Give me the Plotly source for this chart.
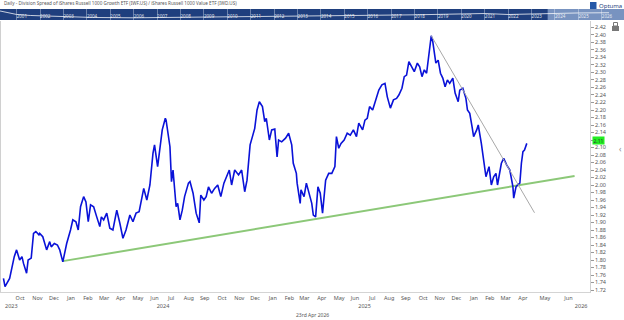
import plotly.graph_objects as go
import pandas as pd

# ---------------- data ----------------
dates = [
    "2023-09-15", "2023-09-19", "2023-09-27", "2023-10-02", "2023-10-05", "2023-10-10", "2023-10-16",
    "2023-10-19", "2023-10-23", "2023-10-27", "2023-10-31", "2023-11-06", "2023-11-09", "2023-11-14",
    "2023-11-20", "2023-11-21", "2023-11-27", "2023-12-04", "2023-12-08", "2023-12-12", "2023-12-18",
    "2023-12-22", "2023-12-27",
    "2024-01-02", "2024-01-09", "2024-01-16", "2024-01-19", "2024-01-25", "2024-01-30", "2024-02-02",
    "2024-02-08", "2024-02-13", "2024-02-16", "2024-02-21", "2024-02-27", "2024-03-04", "2024-03-08",
    "2024-03-12", "2024-03-15", "2024-03-21", "2024-03-27", "2024-04-02", "2024-04-09", "2024-04-15",
    "2024-04-19", "2024-04-25", "2024-05-02", "2024-05-08", "2024-05-14", "2024-05-20", "2024-05-24",
    "2024-05-28", "2024-06-03", "2024-06-07", "2024-06-13", "2024-06-17", "2024-06-21", "2024-06-26",
    "2024-07-01", "2024-07-05", "2024-07-08", "2024-07-15", "2024-07-17", "2024-07-19", "2024-07-25",
    "2024-07-29", "2024-08-01", "2024-08-06", "2024-08-09", "2024-08-16", "2024-08-20", "2024-08-26",
    "2024-08-30", "2024-09-05", "2024-09-09", "2024-09-13", "2024-09-18", "2024-09-23", "2024-09-27",
    "2024-10-03", "2024-10-09", "2024-10-15", "2024-10-21", "2024-10-30", "2024-11-04", "2024-11-08",
    "2024-11-15", "2024-11-21", "2024-11-27", "2024-12-02", "2024-12-06", "2024-12-11", "2024-12-16",
    "2024-12-19", "2024-12-24", "2024-12-30",
    "2025-01-02", "2025-01-06", "2025-01-10", "2025-01-15", "2025-01-21", "2025-01-24", "2025-01-28",
    "2025-02-03", "2025-02-10", "2025-02-14", "2025-02-20", "2025-02-24", "2025-02-28", "2025-03-03",
    "2025-03-07", "2025-03-10", "2025-03-14", "2025-03-19", "2025-03-24", "2025-03-28", "2025-04-01",
    "2025-04-04", "2025-04-09", "2025-04-14", "2025-04-17", "2025-04-23", "2025-04-29", "2025-05-05",
    "2025-05-09", "2025-05-13", "2025-05-16", "2025-05-21", "2025-05-27", "2025-06-02", "2025-06-06",
    "2025-06-12", "2025-06-18", "2025-06-23", "2025-06-30", "2025-07-03", "2025-07-08", "2025-07-11",
    "2025-07-17", "2025-07-23", "2025-07-29", "2025-08-04", "2025-08-08", "2025-08-13", "2025-08-19",
    "2025-08-25", "2025-08-29", "2025-09-03", "2025-09-09", "2025-09-12", "2025-09-17", "2025-09-22",
    "2025-09-26", "2025-10-01", "2025-10-07", "2025-10-10", "2025-10-15", "2025-10-20", "2025-10-23",
    "2025-10-27", "2025-10-31", "2025-11-04", "2025-11-07", "2025-11-10", "2025-11-13", "2025-11-18",
    "2025-11-21", "2025-11-26", "2025-12-01", "2025-12-04", "2025-12-10", "2025-12-15", "2025-12-19",
    "2025-12-23", "2025-12-29",
    "2026-01-02", "2026-01-06", "2026-01-09", "2026-01-14", "2026-01-16", "2026-01-22", "2026-01-26",
    "2026-01-30", "2026-02-04", "2026-02-09", "2026-02-13", "2026-02-18", "2026-02-23", "2026-02-26",
    "2026-03-02", "2026-03-09", "2026-03-12", "2026-03-18", "2026-03-24", "2026-03-30", "2026-03-31",
    "2026-04-03", "2026-04-07", "2026-04-10", "2026-04-14", "2026-04-16", "2026-04-20", "2026-04-23",
]
ratio = [
    1.751, 1.729, 1.751, 1.782, 1.809, 1.827, 1.800,
    1.809, 1.791, 1.765, 1.800, 1.805, 1.871, 1.876,
    1.867, 1.871, 1.862, 1.827, 1.849, 1.835, 1.844,
    1.840, 1.827,
    1.795, 1.844, 1.880, 1.907, 1.902, 1.880, 1.942,
    1.969, 1.955, 1.902, 1.947, 1.942, 1.915, 1.889,
    1.915, 1.907, 1.925, 1.885, 1.880, 1.933, 1.898,
    1.858, 1.880, 1.920, 1.902, 1.925, 1.929, 1.969,
    1.991, 1.960, 2.000, 2.085, 2.107, 2.049, 2.102,
    2.147, 2.178, 2.173, 2.102, 2.009, 2.040, 1.942,
    1.951, 1.907, 1.933, 1.969, 2.005, 2.009, 1.978,
    1.925, 1.899, 1.973, 1.960, 1.969, 1.995, 1.978,
    1.991, 2.000, 1.969, 2.005, 2.040, 2.000, 2.040,
    2.027, 2.040, 1.982, 2.013, 2.107, 2.129, 2.151,
    2.200, 2.222, 2.209,
    2.169, 2.178, 2.120, 2.147, 2.149, 2.075, 2.120,
    2.115, 2.125, 2.138, 2.107, 2.058, 2.031, 2.005,
    1.951, 1.987, 1.969, 2.005, 1.978, 1.951, 1.920,
    1.915, 1.995, 1.978, 1.925, 2.013, 2.031, 2.031,
    2.049, 2.129, 2.098, 2.111, 2.120, 2.138, 2.133,
    2.147, 2.129, 2.165, 2.147, 2.173, 2.178, 2.209,
    2.200, 2.227, 2.253, 2.267, 2.271, 2.235, 2.205,
    2.227, 2.231, 2.240, 2.258, 2.289, 2.293, 2.329,
    2.311, 2.302, 2.325, 2.315, 2.289, 2.307, 2.298,
    2.333, 2.398, 2.382, 2.342, 2.325, 2.333, 2.298,
    2.285, 2.262, 2.280, 2.271, 2.285, 2.245, 2.222,
    2.253, 2.258,
    2.231, 2.200, 2.191, 2.155, 2.129, 2.147, 2.160,
    2.111, 2.058, 2.022, 2.049, 2.000, 2.022, 2.031,
    2.000, 2.058, 2.071, 2.053, 2.040, 1.995, 1.965,
    1.995, 2.000, 2.005, 2.058, 2.089, 2.093, 2.111,
]

support_dates = ["2024-01-02", "2026-06-24"]
support_vals = [1.797, 2.024]
resist_dates = ["2025-10-31", "2026-05-03"]
resist_vals = [2.398, 1.926]

nav_dates = ["2000-04-15", "2000-09-01", "2001-01-01", "2001-08-01", "2002-08-01", "2003-07-01",
             "2004-04-01", "2006-01-01", "2007-01-01", "2008-01-01", "2008-08-01", "2010-01-01",
             "2011-06-01", "2012-09-01", "2014-01-01", "2016-01-01", "2018-01-01", "2020-01-01",
             "2021-01-01", "2022-01-01", "2023-01-01", "2024-01-01", "2025-01-01", "2026-04-23"]
nav_level = [0.82, 0.68, 0.50, 0.41, 0.32, 0.27, 0.23, 0.20, 0.23, 0.29, 0.27, 0.29,
             0.32, 0.34, 0.41, 0.44, 0.47, 0.55, 0.59, 0.50, 0.56, 0.61, 0.64, 0.66]

# right-axis ticks; 2.12 sits behind the current-value badge, so its text is blank
y_ticks = [1.72, 1.74, 1.76, 1.78, 1.80, 1.82, 1.84, 1.86, 1.88, 1.90, 1.92, 1.94, 1.96, 1.98,
           2.00, 2.02, 2.04, 2.06, 2.08, 2.10, 2.12, 2.14, 2.16, 2.18, 2.20, 2.22, 2.24, 2.26,
           2.28, 2.30, 2.32, 2.34, 2.36, 2.38, 2.40, 2.42]
y_tick_labels = ["" if abs(v - 2.12) < 1e-9 else f"{v:.2f}" for v in y_ticks]

title_text = ("Daily - Division Spread of iShares Russell 1000 Growth ETF (IWF.US) / "
              "iShares Russell 1000 Value ETF (IWD.US)")
cursor_date_text = "23rd Apr 2026"

# ---------------- axis config ----------------
x_range = ["2023-09-08 12:00", "2026-07-14"]
nav_range = ["2000-04-15", "2026-12-13"]
days = pd.date_range("2023-09-01", "2026-04-22", freq="D")
weekends = [d.strftime("%Y-%m-%d") for d in days if d.weekday() >= 5]
breaks = [dict(values=weekends, dvalue=86400000)]

W, H = 624, 320
FONT = "Noto Sans"
plot_right = 590 / W
main_top = 271 / 292

fig = go.Figure()

fig.add_trace(go.Scatter(x=nav_dates, y=nav_level, xaxis="x3", yaxis="y3", mode="lines",
                         line=dict(color="rgba(255,255,255,0.75)", width=1), hoverinfo="skip"))
fig.add_trace(go.Scatter(x=support_dates, y=support_vals, mode="lines",
                         line=dict(color="#8cc878", width=2), hoverinfo="skip"))
fig.add_trace(go.Scatter(x=resist_dates, y=resist_vals, xaxis="x2", yaxis="y", mode="lines",
                         line=dict(color="#a8a8a8", width=1), hoverinfo="skip"))
fig.add_trace(go.Scatter(x=dates, y=ratio, mode="lines",
                         line=dict(color="#0a12d8", width=1.6)))

fig.update_layout(
    width=W, height=H,
    margin=dict(l=0, r=0, t=0, b=28),
    paper_bgcolor="white", plot_bgcolor="white",
    showlegend=False,
    font=dict(family=FONT, size=6, color="#555"),
    xaxis=dict(
        domain=[0, plot_right], anchor="y", type="date", range=x_range, rangebreaks=breaks,
        dtick="M1", tick0="2000-01-01", tickformat="%b", ticklabelmode="period",
        ticks="", showgrid=False, zeroline=False,
        showline=True, linecolor="#d4d4d4", linewidth=1,
        minor=dict(ticks="outside", dtick="M1", tick0="2000-01-01", ticklen=11,
                   tickcolor="#dcdcdc", tickwidth=1, showgrid=False),
        tickfont=dict(family=FONT, size=5.5, color="#555"),
    ),
    xaxis2=dict(
        domain=[0, plot_right], overlaying="x", anchor="free", position=0, side="bottom",
        type="date", range=x_range, rangebreaks=breaks,
        dtick="M12", tick0="2000-01-01", tickformat="%Y", ticklabelmode="period",
        ticks="", showgrid=False, zeroline=False, showline=False,
        minor=dict(ticks="outside", dtick="M12", tick0="2000-01-01", ticklen=18,
                   tickcolor="#c4c4c4", tickwidth=1, showgrid=False),
        ticklabelstandoff=9,
        tickfont=dict(family=FONT, size=5.5, color="#555"),
    ),
    yaxis=dict(
        domain=[0, main_top], anchor="x", side="right",
        range=[1.7147, 2.4373], tickmode="array", tickvals=y_ticks, ticktext=y_tick_labels,
        ticks="outside", ticklen=3, tickcolor="#999", tickwidth=1,
        showline=True, linecolor="#d0d0d0", showgrid=False, zeroline=False,
        tickfont=dict(family=FONT, size=5.5, color="#555"),
    ),
    xaxis3=dict(
        domain=[0, 1], anchor="y3", type="date", range=nav_range,
        dtick="M12", tick0="2000-01-01", tickformat="%Y",
        side="top", ticklabelposition="inside right", ticks="",
        showgrid=True, gridcolor="rgba(255,255,255,0.35)", gridwidth=1,
        showline=False, zeroline=False,
        tickfont=dict(family=FONT, size=4.5, color="rgba(255,255,255,0.85)"),
    ),
    yaxis3=dict(domain=[0.9315, 0.9692], anchor="x3", range=[0, 1], visible=False),
)

shapes = [
    # navigator bar
    dict(type="rect", xref="x3", yref="y3 domain", x0=nav_range[0], x1=nav_range[1], y0=0, y1=1,
         fillcolor="#1f3f7e", line=dict(width=0), layer="below"),
    dict(type="rect", xref="x3", yref="y3 domain", x0=x_range[0], x1=nav_range[1], y0=0, y1=1,
         fillcolor="#7893c0", line=dict(width=0), layer="below"),
    # left border of the chart
    dict(type="line", xref="paper", yref="paper", x0=0.0008, x1=0.0008, y0=0, y1=main_top,
         line=dict(color="#d0d0d0", width=1)),
    # logo icon
    dict(type="rect", xref="paper", yref="paper", x0=590 / W, x1=596.5 / W,
         y0=(292 - 9) / 292, y1=(292 - 2) / 292, fillcolor="#2458a8", line=dict(width=0)),
    # lock icon
    dict(type="rect", xref="paper", yref="paper", x0=612 / W, x1=619 / W,
         y0=(292 - 31) / 292, y1=(292 - 26) / 292, fillcolor="#777", line=dict(width=0)),
    dict(type="rect", xref="paper", yref="paper", x0=613.5 / W, x1=617.5 / W,
         y0=(292 - 26) / 292, y1=(292 - 22.5) / 292, fillcolor="rgba(0,0,0,0)",
         line=dict(color="#777", width=1)),
]
fig.update_layout(shapes=shapes)

annotations = [
    dict(text=title_text, xref="paper", yref="paper", x=0.003, y=(292 - 3.5) / 292,
         xanchor="left", yanchor="middle", showarrow=False,
         font=dict(family=FONT, size=4.6, color="#555")),
    dict(text="Optuma", xref="paper", yref="paper", x=597 / W, y=(292 - 5.5) / 292,
         xanchor="left", yanchor="middle", showarrow=False,
         font=dict(family=FONT, size=6, color="#1f3f7e")),
    dict(text=cursor_date_text, xref="paper", yref="paper", x=0.5, y=(292 - 314.5) / 292,
         xanchor="center", yanchor="middle", showarrow=False,
         font=dict(family=FONT, size=5, color="#555")),
    dict(text="2023", xref="x", yref="paper", x="2023-09-15", y=(292 - 306) / 292,
         xanchor="left", yanchor="middle", showarrow=False,
         font=dict(family=FONT, size=5.5, color="#555")),
    dict(text=f"{ratio[-1]:.2f}", xref="paper", yref="y", x=plot_right, y=ratio[-1],
         xanchor="left", yanchor="middle", xshift=2, yshift=3, showarrow=False,
         bgcolor="#22ee22", borderpad=0.5,
         font=dict(family=FONT, size=5, color="#333")),
    dict(text="‹", xref="paper", yref="paper", x=620 / W, y=(292 - 148) / 292,
         xanchor="center", yanchor="middle", showarrow=False,
         font=dict(family=FONT, size=8, color="#888")),
]
fig.update_layout(annotations=annotations)

fig.write_html("out.html")
